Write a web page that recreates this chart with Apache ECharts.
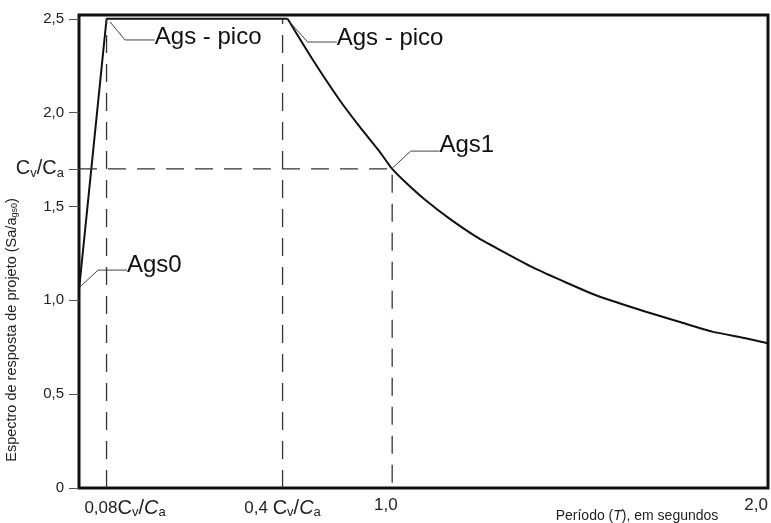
<!DOCTYPE html>
<html>
<head>
<meta charset="utf-8">
<script src="https://cdn.jsdelivr.net/npm/echarts@6/dist/echarts.min.js"></script>
<style>
  html, body { margin: 0; padding: 0; background: #fff; }
  #chart { width: 771px; height: 523px; }
</style>
</head>
<body>
<div id="chart"></div>
<script>
// spectrum: linear rise + plateau, then decaying branch
const riseT = [0, 0.088, 0.666];
const riseSa = [1.055, 2.5, 2.5];
const decayT = [0.666, 0.747, 0.832, 0.896, 0.96, 1.0, 1.045, 1.109, 1.183, 1.268, 1.342, 1.449, 1.555, 1.661, 1.81, 1.916, 2.022, 2.129, 2.2];
const decaySa = [2.5, 2.28, 2.067, 1.925, 1.792, 1.70, 1.625, 1.53, 1.435, 1.339, 1.27, 1.175, 1.095, 1.02, 0.939, 0.886, 0.833, 0.798, 0.771];

// reference (dashed) lines
const guideT = [0.088, 0.65, 1.0];
const cvCa = 1.7;

// annotation leaders
const leaderNames = ["Ags0", "Ags - pico", "Ags - pico", "Ags1"];
const leaderT = [[0.003, 0.061, 0.153], [0.099, 0.147, 0.242], [0.673, 0.73, 0.823], [1.001, 1.059, 1.151]];
const leaderSa = [[1.071, 1.161, 1.161], [2.483, 2.387, 2.387], [2.483, 2.376, 2.376], [1.705, 1.795, 1.795]];

// tick labels
const yTickValues = [0, 0.5, 1.0, 1.5, 1.7, 2.0, 2.5];
const yTickTexts = ["0", "0,5", "1,0", "1,5", "{c|C}{s|v}{c|/C}{s|a}", "2,0", "2,5"];
const xTickValues = [0.147, 0.65, 0.98, 2.2];
const xTickTexts = ["0,08{c|C}{s|v}{c|/}{ci|C}{s|a}", "0,4 {c|C}{s|v}{c|/}{ci|C}{s|a}", "1,0", "2,0"];

const FONT = 'Arial, "Liberation Sans", sans-serif';
const richSub = {
  c: { fontSize: 20, fontFamily: FONT, color: "#222", lineHeight: 22 },
  ci: { fontSize: 20, fontFamily: FONT, color: "#222", fontStyle: "italic", lineHeight: 22 },
  s: { fontSize: 13, fontFamily: FONT, color: "#222", lineHeight: 11, verticalAlign: "bottom" },
};

const pairs = (xs, ys) => xs.map((x, i) => [x, ys[i]]);
const dash = { color: "#333", width: 1.3, type: [18, 11] };

const series = [
  { type: "line", data: pairs(riseT, riseSa), lineStyle: { color: "#111", width: 2 } },
  { type: "line", data: pairs(decayT, decaySa), smooth: 0.2, lineStyle: { color: "#111", width: 2 } },
  { type: "line", data: [[guideT[0], 0], [guideT[0], 2.5]], lineStyle: dash },
  { type: "line", data: [[guideT[1], 0], [guideT[1], 2.5]], lineStyle: dash },
  { type: "line", data: [[0, cvCa], [guideT[2], cvCa], [guideT[2], 0]], lineStyle: dash },
];
const labelOffsets = [[0, -5], [0, -3], [0, -4], [0, -6]];
leaderNames.forEach((name, i) => {
  series.push({
    type: "line",
    data: pairs(leaderT[i], leaderSa[i]),
    lineStyle: { color: "#444", width: 1 },
    endLabel: { show: true, formatter: name, distance: 0, offset: labelOffsets[i], fontSize: 24, fontFamily: FONT, color: "#111" },
  });
});
series.forEach((s) => Object.assign(s, { showSymbol: false, symbol: "none", silent: true, animation: false }));

const chart = echarts.init(document.getElementById("chart"));
chart.setOption({
  animation: false,
  grid: { left: 79, right: 2, top: 15, bottom: 35, show: true, borderColor: "#111", borderWidth: 3 },
  xAxis: {
    type: "value", min: 0, max: 2.2,
    axisLine: { show: false }, axisTick: { show: false }, splitLine: { show: false },
    axisLabel: {
      customValues: xTickValues, margin: 9, alignMaxLabel: "right",
      fontSize: 17, fontFamily: FONT, color: "#222",
      formatter: (v) => xTickTexts[xTickValues.indexOf(v)] ?? "",
      rich: richSub,
    },
  },
  yAxis: {
    type: "value", min: 0, max: 2.52,
    axisLine: { show: false }, splitLine: { show: false },
    axisTick: { show: true, customValues: yTickValues, length: 10, lineStyle: { color: "#555", width: 1 } },
    axisLabel: {
      customValues: yTickValues, margin: 15,
      fontSize: 15, fontFamily: FONT, color: "#222",
      formatter: (v) => yTickTexts[yTickValues.indexOf(v)] ?? "",
      rich: richSub,
    },
  },
  graphic: [
    {
      type: "text", x: 12, y: 330, rotation: Math.PI / 2,
      style: {
        text: "Espectro de resposta de projeto (Sa/a{s|gs0})",
        font: "14.5px " + FONT, fill: "#222", align: "center", verticalAlign: "middle",
        rich: { s: { fontSize: 9, fontFamily: FONT, fill: "#222", verticalAlign: "bottom", lineHeight: 9 } },
      },
    },
    {
      type: "text", x: 637, y: 516,
      style: {
        text: "Período ({i|T}), em segundos",
        font: "14px " + FONT, fill: "#222", align: "center", verticalAlign: "middle",
        rich: { i: { fontSize: 14, fontFamily: FONT, fontStyle: "italic", fill: "#222" } },
      },
    },
  ],
  series,
});
</script>
</body>
</html>
